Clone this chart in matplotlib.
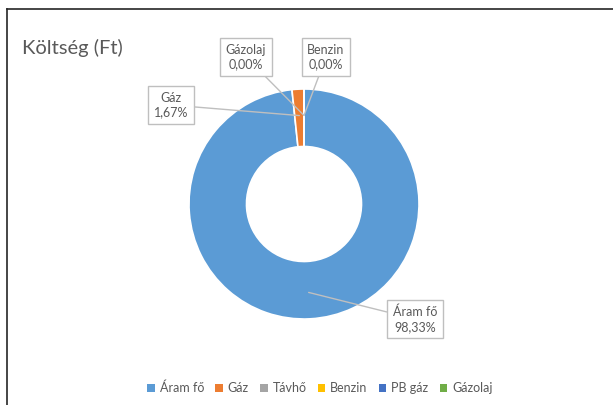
import numpy as np
import matplotlib.pyplot as plt
from matplotlib.patches import Rectangle

plt.rcParams['font.family'] = ['Lato', 'DejaVu Sans']

# adatok
categories = ['Áram fő', 'Gáz', 'Távhő', 'Benzin', 'PB gáz', 'Gázolaj']
values = [98.33, 1.67, 0.0, 0.0, 0.0, 0.0]
colors = ['#5B9BD5', '#ED7D31', '#A5A5A5', '#FFC000', '#4472C4', '#70AD47']
# címkék dobozainak helye (pixel, bal felső sarok az origó)
label_pos = {'Áram fő': (415, 319), 'Gáz': (171, 105),
             'Benzin': (326, 57), 'Gázolaj': (246, 57)}

W, H = 613, 405
fig = plt.figure(figsize=(W / 100, H / 100), dpi=100)
ax = fig.add_axes([0, 0, 1, 1])

cx, cy, R = 304, H - 204, 115
wedges, _ = ax.pie(values, colors=colors, startangle=90, counterclock=False,
                   center=(cx, cy), radius=R, frame=True,
                   wedgeprops=dict(width=R * 0.5, edgecolor='white', linewidth=1.2))
ax.set_xlim(0, W)
ax.set_ylim(0, H)
ax.set_aspect('equal')
ax.axis('off')

# keret (csak felül és balra látszik)
ax.plot([6.5, W], [H - 9, H - 9], color='#262626', lw=1.2)
ax.plot([6.5, 6.5], [0, H - 9], color='#262626', lw=1.2)

total = sum(values)
start = 0.0
for cat, v in zip(categories, values):
    mid = start + v / 2
    start += v
    if cat not in label_pos:
        continue
    ang = np.deg2rad(90 - mid / total * 360)
    r = R * 0.77
    px, py = cx + r * np.cos(ang), cy + r * np.sin(ang)
    lx, ly = label_pos[cat]
    txt = '%s\n%s%%' % (cat, ('%.2f' % v).replace('.', ','))
    ax.annotate(txt, xy=(px, py), xytext=(lx, H - ly), ha='center', va='center',
                fontsize=9, color='#595959', linespacing=1.3,
                bbox=dict(boxstyle='square,pad=0.45', fc='white', ec='#BFBFBF', lw=1),
                arrowprops=dict(arrowstyle='-', color='#BFBFBF', lw=1,
                                shrinkA=0, shrinkB=0))

ax.text(22, H - 48, 'Költség (Ft)', fontsize=14.5, color='#595959', va='center', ha='left')

handles = [Rectangle((0, 0), 1, 1, fc=c) for c in colors]
fig.legend(handles, categories, loc='center', bbox_to_anchor=(0.522, 1 - 388 / H),
           ncol=6, frameon=False, fontsize=9, labelcolor='#595959',
           handlelength=0.6, handleheight=0.6, handletextpad=0.4, columnspacing=0.9)

fig.savefig('out.png', dpi=100, facecolor='white')
